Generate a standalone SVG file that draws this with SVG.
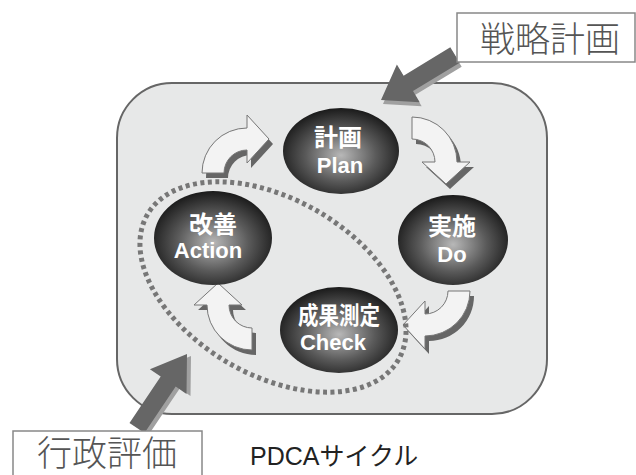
<svg xmlns="http://www.w3.org/2000/svg" width="636" height="475" viewBox="0 0 636 475">
<style>
.lbl{font-family:"Noto Sans CJK JP","Liberation Sans",sans-serif;font-size:35px;font-weight:300;fill:#555;text-anchor:middle}
.nt{font-family:"Liberation Sans","Noto Sans CJK JP",sans-serif;font-size:22px;font-weight:bold;fill:#fff;text-anchor:middle}
.kt{font-family:"Noto Sans CJK JP",sans-serif;font-size:24px;font-weight:bold;fill:#fff;text-anchor:middle}
.box{fill:#fff;stroke:#888;stroke-width:1.5}
.node{fill:url(#g)}
.carr{fill:#f3f3f3;stroke:#777;stroke-width:1}
.csh{fill:#666}
.garr{fill:#666}
.gsh{fill:#a0a0a0}
</style>
<defs>
<radialGradient id="g" cx="50%" cy="55%" r="55%">
<stop offset="0" stop-color="#b8b8b8"/>
<stop offset="0.55" stop-color="#5a5a5a"/>
<stop offset="1" stop-color="#1a1a1a"/>
</radialGradient>
<path id="ca" d="M-45,0 A45,45 0 0 1 0,-45 L0,-58 L22,-34 L0,-10 L0,-23 A23,23 0 0 0 -23,0 Z"/>
</defs>
<rect id="frame" x="117" y="83" width="430" height="331" rx="55" fill="#e7e8e8" stroke="#666" stroke-width="2"/>
<g id="connectors">
<g id="c1" transform="translate(247,173)"><use href="#ca" class="csh" transform="translate(4,5)"/><use href="#ca" class="carr"/></g>
<g id="c2" transform="translate(412,162) rotate(90)"><use href="#ca" class="csh" transform="rotate(-90) translate(4,5) rotate(90)"/><use href="#ca" class="carr"/></g>
<g id="c3" transform="translate(425,291) rotate(180)"><use href="#ca" class="csh" transform="rotate(-180) translate(4,5) rotate(180)"/><use href="#ca" class="carr"/></g>
<g id="c4" transform="translate(252,305) rotate(270)"><use href="#ca" class="csh" transform="rotate(-270) translate(4,5) rotate(270)"/><use href="#ca" class="carr"/></g>
<polygon class="gsh" transform="translate(2,4)" points="459.7,62.7 450.3,47.3 403.6,75.7 396.9,64.6 381,100 419.7,102.2 413,91.1"/>
<polygon class="garr" points="459.7,62.7 450.3,47.3 403.6,75.7 396.9,64.6 381,100 419.7,102.2 413,91.1"/>
<polygon class="gsh" transform="translate(4,2)" points="129.5,423 144.5,433 175.7,386.6 186.5,393.9 187,354 149.9,369.3 160.7,376.6"/>
<polygon class="garr" points="129.5,423 144.5,433 175.7,386.6 186.5,393.9 187,354 149.9,369.3 160.7,376.6"/>
</g>
<g id="plan"><ellipse class="node" cx="341" cy="151" rx="58" ry="43"/><text class="kt" x="338" y="146">計画</text><text class="nt" x="340" y="173" font-size="23">Plan</text></g>
<g id="do"><ellipse class="node" cx="453" cy="240" rx="55" ry="45"/><text class="kt" x="452" y="235">実施</text><text class="nt" x="452" y="262">Do</text></g>
<g id="action"><ellipse class="node" cx="213" cy="238" rx="59" ry="47"/><text class="kt" x="213" y="233">改善</text><text class="nt" x="208" y="258">Action</text></g>
<g id="check"><ellipse class="node" cx="339" cy="330" rx="59" ry="43"/><text class="kt" x="339" y="324" textLength="82" lengthAdjust="spacingAndGlyphs">成果測定</text><text class="nt" x="333" y="350">Check</text></g>
<g id="scope"><ellipse cx="273" cy="287" rx="145" ry="88" transform="rotate(30 273 287)" fill="none" stroke="#777" stroke-width="5" stroke-dasharray="4 3.5"/></g>
<g id="senryaku"><rect class="box" x="457" y="13" width="178" height="49"/><text class="lbl" x="550" y="52">戦略計画</text></g>
<g id="gyosei"><rect class="box" x="13" y="431" width="189" height="60"/><text class="lbl" x="107" y="466">行政評価</text></g>
<g id="title"><text x="250" y="465" font-family="Liberation Sans,Noto Sans CJK JP,sans-serif" font-size="25" fill="#222">PDCAサイクル</text></g>
</svg>
